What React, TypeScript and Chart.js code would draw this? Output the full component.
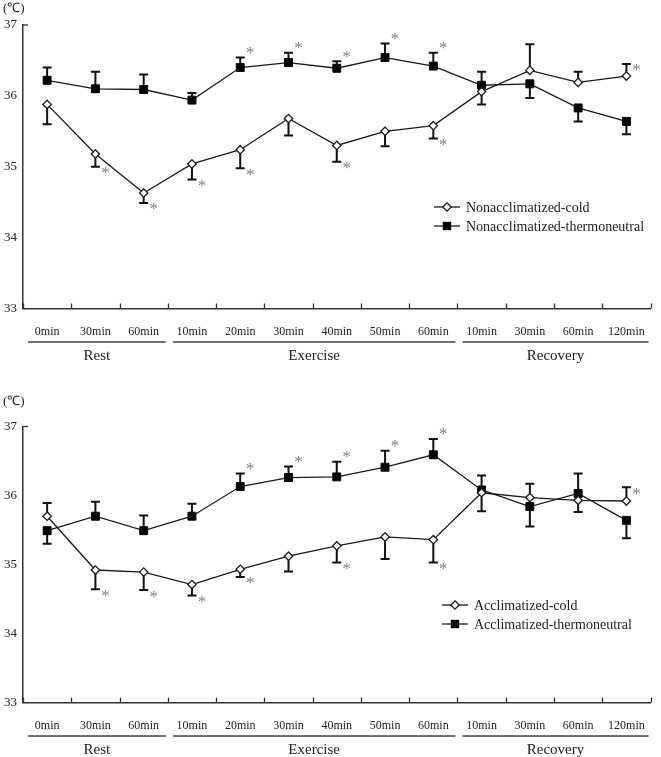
import React, { useEffect, useRef } from "react";
import { Chart, registerables } from "chart.js";

Chart.register(...registerables);

// ---------- data ----------
const categories = [
  "0min", "30min", "60min",
  "10min", "20min", "30min", "40min", "50min", "60min",
  "10min", "30min", "60min", "120min",
];
const groupLabels = ["Rest", "Exercise", "Recovery"];
const groupSizes = [3, 6, 4];
const yTicks = [33, 34, 35, 36, 37];

// Panel 1: nonacclimatized
const nonColdLabel = "Nonacclimatized-cold";
const nonColdMean = [35.88, 35.18, 34.63, 35.04, 35.24, 35.68, 35.3, 35.5, 35.58, 36.06, 36.36, 36.19, 36.28];
const nonColdErr = [-0.28, -0.18, -0.14, -0.22, -0.26, -0.24, -0.23, -0.21, -0.18, 0.28, 0.37, 0.15, 0.17];
const nonColdSig = [false, true, true, true, true, false, true, false, true, false, false, false, true];

const nonThermoLabel = "Nonacclimatized-thermoneutral";
const nonThermoMean = [36.22, 36.1, 36.09, 35.94, 36.4, 36.47, 36.39, 36.54, 36.42, 36.15, 36.17, 35.83, 35.64];
const nonThermoErr = [0.18, 0.24, 0.21, 0.1, 0.14, 0.14, 0.1, 0.2, 0.19, -0.27, -0.2, -0.19, -0.18];
const nonThermoSig = [false, false, false, false, true, true, true, true, true, false, false, false, false];

// Panel 2: acclimatized
const accColdLabel = "Acclimatized-cold";
const accColdMean = [35.7, 34.92, 34.89, 34.71, 34.93, 35.12, 35.27, 35.4, 35.36, 36.04, 35.97, 35.93, 35.92];
const accColdErr = [0.19, -0.28, -0.26, -0.16, -0.11, -0.22, -0.24, -0.32, -0.33, 0.25, 0.2, -0.17, 0.2];
const accColdSig = [false, true, true, true, true, false, true, false, true, false, false, false, true];

const accThermoLabel = "Acclimatized-thermoneutral";
const accThermoMean = [35.49, 35.7, 35.49, 35.7, 36.13, 36.26, 36.27, 36.41, 36.59, 36.08, 35.84, 36.03, 35.64];
const accThermoErr = [-0.19, 0.21, 0.22, 0.18, 0.19, 0.16, 0.22, 0.24, 0.23, -0.31, -0.29, 0.29, -0.26];
const accThermoSig = [false, false, false, false, true, true, true, true, true, false, false, false, false];

// ---------- styling ----------
const SERIF = "'Liberation Serif', 'Times New Roman', serif";
const INK = "#1a1a1a";
const AXIS = "#333333";
const STAR = "#7f8290";

type PanelProps = {
  top: number;
  height: number;
  areaTop: number;
  areaBottom: number;
  unitY: number;
  legendX: number;
  legendY: number;
  coldLabel: string;
  coldMean: number[];
  coldErr: number[];
  coldSig: boolean[];
  thermoLabel: string;
  thermoMean: number[];
  thermoErr: number[];
  thermoSig: boolean[];
};

function Panel(p: PanelProps) {
  const ref = useRef<HTMLCanvasElement>(null);

  useEffect(() => {
    const canvas = ref.current;
    if (!canvas) return;

    const drawStar = (ctx: CanvasRenderingContext2D, cx: number, cy: number) => {
      ctx.save();
      ctx.font = `17px ${SERIF}`;
      ctx.fillStyle = STAR;
      ctx.textAlign = "center";
      ctx.textBaseline = "alphabetic";
      const m = ctx.measureText("*");
      const asc = m.actualBoundingBoxAscent;
      const desc = m.actualBoundingBoxDescent;
      ctx.fillText("*", cx, cy + (asc - desc) / 2);
      ctx.restore();
    };

    const series = [
      { mean: p.coldMean, err: p.coldErr, sig: p.coldSig, starDy: 4 },
      { mean: p.thermoMean, err: p.thermoErr, sig: p.thermoSig, starDy: -7 },
    ];

    const overlay = {
      id: "overlay",
      beforeDatasetsDraw(chart: any) {
        const ctx: CanvasRenderingContext2D = chart.ctx;
        const xs = chart.scales.x;
        const ys = chart.scales.y;
        ctx.save();
        ctx.strokeStyle = "#111";
        ctx.lineWidth = 2;
        series.forEach((s) => {
          s.err.forEach((e, i) => {
            const px = xs.getPixelForValue(i);
            const y0 = ys.getPixelForValue(s.mean[i]);
            const y1 = ys.getPixelForValue(s.mean[i] + e);
            ctx.beginPath();
            ctx.moveTo(px, y0);
            ctx.lineTo(px, y1);
            ctx.moveTo(px - 4.5, y1);
            ctx.lineTo(px + 4.5, y1);
            ctx.stroke();
          });
        });
        ctx.restore();
      },
      afterDraw(chart: any) {
        const ctx: CanvasRenderingContext2D = chart.ctx;
        const xs = chart.scales.x;
        const ys = chart.scales.y;
        const area = chart.chartArea;
        const band = (xs.right - xs.left) / categories.length;
        ctx.save();

        // inward x ticks at category boundaries
        ctx.strokeStyle = AXIS;
        ctx.lineWidth = 1.3;
        for (let i = 0; i <= categories.length; i++) {
          const bx = Math.round(xs.left + i * band) + 0.5;
          ctx.beginPath();
          ctx.moveTo(bx, area.bottom);
          ctx.lineTo(bx, area.bottom - 5);
          ctx.stroke();
        }
        // top y tick
        ctx.beginPath();
        ctx.moveTo(area.left, ys.getPixelForValue(37));
        ctx.lineTo(area.left + 5, ys.getPixelForValue(37));
        ctx.stroke();

        // asterisks
        series.forEach((s) => {
          s.sig.forEach((flag, i) => {
            if (!flag) return;
            const px = xs.getPixelForValue(i);
            const y1 = ys.getPixelForValue(s.mean[i] + s.err[i]);
            drawStar(ctx, px + 10, y1 + s.starDy);
          });
        });

        // group underlines and labels
        let start = 0;
        groupLabels.forEach((g, gi) => {
          const n = groupSizes[gi];
          const xl = xs.left + start * band;
          const xr = xs.left + (start + n) * band;
          ctx.strokeStyle = "#444";
          ctx.lineWidth = 1.5;
          ctx.beginPath();
          ctx.moveTo(xl + 5, area.bottom + 33.5);
          ctx.lineTo(xr - 2, area.bottom + 33.5);
          ctx.stroke();
          ctx.fillStyle = "#222";
          ctx.font = `15px ${SERIF}`;
          ctx.textAlign = "center";
          ctx.textBaseline = "middle";
          ctx.fillText(g, (xl + 5 + xr - 2) / 2, area.bottom + 48);
          start += n;
        });

        // unit label
        ctx.fillStyle = "#222";
        ctx.font = `13px ${SERIF}`;
        ctx.textAlign = "left";
        ctx.textBaseline = "middle";
        ctx.fillText("(\u2103)", 3, p.unitY);

        // legend
        const rows = [
          { label: p.coldLabel, kind: "diamond" },
          { label: p.thermoLabel, kind: "square" },
        ];
        rows.forEach((r, ri) => {
          const ly = p.legendY + ri * 19;
          const lx = p.legendX;
          ctx.strokeStyle = INK;
          ctx.lineWidth = 1.3;
          ctx.beginPath();
          ctx.moveTo(lx, ly);
          ctx.lineTo(lx + 26, ly);
          ctx.stroke();
          const mx = lx + 13;
          if (r.kind === "diamond") {
            ctx.beginPath();
            ctx.moveTo(mx, ly - 4.2);
            ctx.lineTo(mx + 4.2, ly);
            ctx.lineTo(mx, ly + 4.2);
            ctx.lineTo(mx - 4.2, ly);
            ctx.closePath();
            ctx.fillStyle = "#fff";
            ctx.fill();
            ctx.stroke();
          } else {
            ctx.fillStyle = "#000";
            ctx.fillRect(mx - 4.2, ly - 4.2, 8.4, 8.4);
          }
          ctx.fillStyle = "#222";
          ctx.font = `14px ${SERIF}`;
          ctx.textAlign = "left";
          ctx.textBaseline = "middle";
          ctx.fillText(r.label, lx + 32, ly + 1);
        });

        ctx.restore();
      },
    };

    const chart = new Chart(canvas, {
      type: "line",
      data: {
        labels: categories,
        datasets: [
          {
            label: p.coldLabel,
            data: p.coldMean,
            borderColor: INK,
            borderWidth: 1.3,
            pointStyle: "rectRot",
            pointRadius: 4.2,
            pointBackgroundColor: "#ffffff",
            pointBorderColor: INK,
            pointBorderWidth: 1.3,
            tension: 0,
          },
          {
            label: p.thermoLabel,
            data: p.thermoMean,
            borderColor: INK,
            borderWidth: 1.3,
            pointStyle: "rect",
            pointRadius: 5.6,
            pointBackgroundColor: "#000000",
            pointBorderColor: "#000000",
            pointBorderWidth: 1,
            tension: 0,
          },
        ],
      },
      options: {
        responsive: false,
        animation: false,
        layout: { padding: { top: p.areaTop, bottom: 0, left: 0, right: 2 } },
        plugins: {
          legend: { display: false },
          tooltip: { enabled: false },
        },
        scales: {
          x: {
            type: "category",
            offset: true,
            grid: { display: false, drawTicks: false },
            border: { display: true, color: AXIS, width: 1.5 },
            ticks: {
              autoSkip: false,
              maxRotation: 0,
              minRotation: 0,
              padding: 16,
              color: "#222",
              font: { family: SERIF, size: 12 },
            },
            afterFit: (s: any) => {
              s.height = p.height - p.areaBottom;
            },
          },
          y: {
            min: yTicks[0],
            max: yTicks[yTicks.length - 1],
            afterBuildTicks: (s: any) => {
              s.ticks = yTicks.map((v) => ({ value: v }));
            },
            grid: { display: false, drawTicks: false },
            border: { display: true, color: AXIS, width: 1.5 },
            ticks: {
              padding: 6,
              color: "#222",
              font: { family: SERIF, size: 13 },
            },
            afterFit: (s: any) => {
              s.width = 23;
            },
          },
        },
      },
      plugins: [overlay],
    } as any);

    return () => chart.destroy();
  }, []);

  return (
    <canvas
      ref={ref}
      width={661}
      height={p.height}
      style={{ position: "absolute", left: 0, top: p.top, width: 661, height: p.height, display: "block" }}
    />
  );
}

export default function App() {
  return (
    <div style={{ position: "absolute", left: 0, top: 0, width: 661, height: 757, background: "#fff", overflow: "hidden" }}>
      <Panel
        top={0}
        height={372}
        areaTop={25}
        areaBottom={308.5}
        unitY={9}
        legendX={434}
        legendY={207}
        coldLabel={nonColdLabel}
        coldMean={nonColdMean}
        coldErr={nonColdErr}
        coldSig={nonColdSig}
        thermoLabel={nonThermoLabel}
        thermoMean={nonThermoMean}
        thermoErr={nonThermoErr}
        thermoSig={nonThermoSig}
      />
      <Panel
        top={390}
        height={367}
        areaTop={36.5}
        areaBottom={312.5}
        unitY={12}
        legendX={442}
        legendY={215}
        coldLabel={accColdLabel}
        coldMean={accColdMean}
        coldErr={accColdErr}
        coldSig={accColdSig}
        thermoLabel={accThermoLabel}
        thermoMean={accThermoMean}
        thermoErr={accThermoErr}
        thermoSig={accThermoSig}
      />
    </div>
  );
}
